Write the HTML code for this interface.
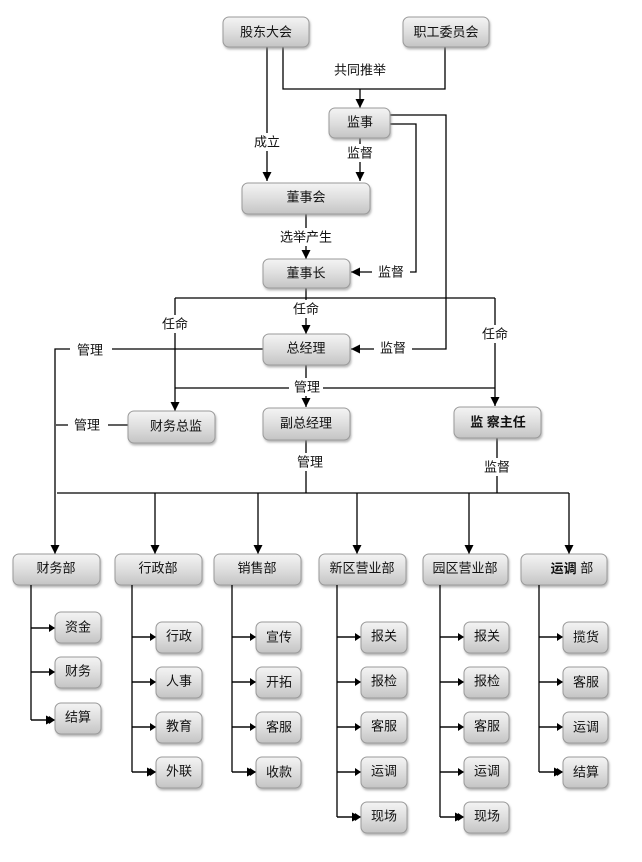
<!DOCTYPE html>
<html><head><meta charset="utf-8"><style>
html,body{margin:0;padding:0;background:#fff;}
svg{display:block;}
text{font-family:"Liberation Sans","Noto Sans CJK SC",sans-serif;font-size:13px;fill:#111;text-anchor:middle;dominant-baseline:central;}
.l{stroke:#000;stroke-width:1.3;fill:none;}
.b{fill:url(#g);stroke:#9a9a9a;stroke-width:1;filter:url(#s);}
.lb{fill:#fff;}
</style></head><body>
<svg width="642" height="862" viewBox="0 0 642 862" xmlns="http://www.w3.org/2000/svg">
<defs>
<linearGradient id="g" x1="0" y1="0" x2="0" y2="1">
<stop offset="0" stop-color="#f4f4f4"/><stop offset="0.5" stop-color="#dedede"/><stop offset="1" stop-color="#c4c4c4"/>
</linearGradient>
<filter id="s" x="-10%" y="-10%" width="130%" height="140%"><feDropShadow dx="1" dy="2" stdDeviation="1" flood-color="#888" flood-opacity="0.6"/></filter>
<marker id="a" viewBox="0 0 10 10" refX="10" refY="5" markerWidth="7" markerHeight="7" orient="auto"><path d="M0,0 L10,5 L0,10 z" fill="#000"/></marker>
</defs>

<!-- top lines -->
<path class="l" d="M283 47 V89 H445 V47"/>
<path class="l" d="M360 89 V108" marker-end="url(#a)"/>
<path class="l" d="M267 47 V181" marker-end="url(#a)"/>
<path class="l" d="M360 138 V181" marker-end="url(#a)"/>
<path class="l" d="M306 214 V259" marker-end="url(#a)"/>
<path class="l" d="M390 124 H416 V272 H351" marker-end="url(#a)"/>
<path class="l" d="M390 115 H446 V349 H351" marker-end="url(#a)"/>
<path class="l" d="M306 288 V298"/>
<path class="l" d="M175 298 H495"/>
<path class="l" d="M306 298 V334" marker-end="url(#a)"/>
<path class="l" d="M175 298 V411" marker-end="url(#a)"/>
<path class="l" d="M495 298 V406" marker-end="url(#a)"/>
<path class="l" d="M263 349 H55 V554" marker-end="url(#a)"/>
<path class="l" d="M306 365 V407" marker-end="url(#a)"/>
<path class="l" d="M175 388 H495"/>
<path class="l" d="M56 425 H128"/>
<path class="l" d="M306 440 V493"/>
<path class="l" d="M497 438 V493"/>
<path class="l" d="M57 493 H569"/>
<path class="l" d="M155 493 V554" marker-end="url(#a)"/>
<path class="l" d="M258 493 V554" marker-end="url(#a)"/>
<path class="l" d="M357 493 V554" marker-end="url(#a)"/>
<path class="l" d="M469 493 V554" marker-end="url(#a)"/>
<path class="l" d="M569 493 V554" marker-end="url(#a)"/>

<!-- labels with white bg -->
<text x="360" y="70">共同推举</text>
<rect class="lb" x="250" y="133" width="34" height="18"/><text x="267" y="142">成立</text>
<rect class="lb" x="343" y="144" width="34" height="18"/><text x="360" y="153">监督</text>
<rect class="lb" x="278" y="228" width="56" height="18"/><text x="306" y="237">选举产生</text>
<rect class="lb" x="372" y="263" width="38" height="18"/><text x="391" y="272">监督</text>
<rect class="lb" x="374" y="340" width="38" height="18"/><text x="393" y="348">监督</text>
<rect class="lb" x="289" y="300" width="34" height="18"/><text x="306" y="309">任命</text>
<rect class="lb" x="158" y="315" width="34" height="18"/><text x="175" y="324">任命</text>
<rect class="lb" x="478" y="325" width="34" height="18"/><text x="495" y="334">任命</text>
<rect class="lb" x="70" y="340" width="42" height="18"/><text x="90" y="350">管理</text>
<rect class="lb" x="289" y="378" width="34" height="18"/><text x="307" y="387">管理</text>
<rect class="lb" x="68" y="416" width="40" height="18"/><text x="87" y="425">管理</text>
<rect class="lb" x="293" y="453" width="34" height="18"/><text x="310" y="462">管理</text>
<rect class="lb" x="480" y="458" width="34" height="18"/><text x="497" y="467">监督</text>

<!-- main boxes -->
<rect class="b" x="223" y="17" width="86" height="30" rx="6"/><text x="266" y="32">股东大会</text>
<rect class="b" x="403" y="17" width="86" height="30" rx="6"/><text x="446" y="32">职工委员会</text>
<rect class="b" x="329" y="108" width="61" height="30" rx="6"/><text x="360" y="122">监事</text>
<rect class="b" x="242" y="183" width="128" height="31" rx="6"/><text x="306" y="197">董事会</text>
<rect class="b" x="263" y="259" width="87" height="29" rx="6"/><text x="306" y="273">董事长</text>
<rect class="b" x="263" y="334" width="87" height="31" rx="6"/><text x="306" y="348">总经理</text>
<rect class="b" x="128" y="411" width="87" height="32" rx="6"/><text x="176" y="426">财务总监</text>
<rect class="b" x="263" y="408" width="87" height="32" rx="6"/><text x="306" y="423">副总经理</text>
<rect class="b" x="454" y="407" width="87" height="31" rx="6"/><text x="498" y="422" style="font-weight:bold">监 察主任</text>

<!-- departments -->
<g>
<rect class="b" x="13" y="554" width="87" height="31" rx="6"/><text x="56" y="568">财务部</text>
<rect class="b" x="115" y="554" width="87" height="31" rx="6"/><text x="158" y="568">行政部</text>
<rect class="b" x="214" y="554" width="87" height="31" rx="6"/><text x="257" y="568">销售部</text>
<rect class="b" x="319" y="554" width="87" height="31" rx="6"/><text x="362" y="568">新区营业部</text>
<rect class="b" x="423" y="554" width="85" height="31" rx="6"/><text x="465" y="568">园区营业部</text>
<rect class="b" x="521" y="554" width="86" height="31" rx="6"/><text x="572" y="568"><tspan style="font-weight:bold">运调</tspan> 部</text>
</g>

<!-- trunks -->
<path class="l" d="M31 585 V720 M132 585 V772 M232 585 V772 M337 585 V817 M440 585 V817 M539 585 V772"/>

<!-- sub arrows -->
<g>
<path class="l" d="M31 628 H55 M31 672 H55 M31 720 H55" marker-end="url(#a)"/>
<path class="l" d="M132 637 H156 M132 682 H156 M132 727 H156 M132 772 H156" marker-end="url(#a)"/>
<path class="l" d="M232 637 H256 M232 682 H256 M232 727 H256 M232 772 H256" marker-end="url(#a)"/>
<path class="l" d="M337 637 H361 M337 682 H361 M337 727 H361 M337 772 H361 M337 817 H361" marker-end="url(#a)"/>
<path class="l" d="M440 637 H464 M440 682 H464 M440 727 H464 M440 772 H464 M440 817 H464" marker-end="url(#a)"/>
<path class="l" d="M539 637 H563 M539 682 H563 M539 727 H563 M539 772 H563" marker-end="url(#a)"/>
</g>
<path class="l" d="M31 628 H55"/><path class="l" d="M31 672 H55"/><path class="l" d="M31 720 H55"/>
<path class="l" d="M132 637 H156"/><path class="l" d="M132 682 H156"/><path class="l" d="M132 727 H156"/><path class="l" d="M132 772 H156"/>
<path class="l" d="M232 637 H256"/><path class="l" d="M232 682 H256"/><path class="l" d="M232 727 H256"/><path class="l" d="M232 772 H256"/>
<path class="l" d="M337 637 H361"/><path class="l" d="M337 682 H361"/><path class="l" d="M337 727 H361"/><path class="l" d="M337 772 H361"/><path class="l" d="M337 817 H361"/>
<path class="l" d="M440 637 H464"/><path class="l" d="M440 682 H464"/><path class="l" d="M440 727 H464"/><path class="l" d="M440 772 H464"/><path class="l" d="M440 817 H464"/>
<path class="l" d="M539 637 H563"/><path class="l" d="M539 682 H563"/><path class="l" d="M539 727 H563"/><path class="l" d="M539 772 H563"/>

<!-- arrowheads drawn explicitly -->
<g fill="#000">
<path d="M55 628 l-6 -4 v8 z M55 672 l-6 -4 v8 z M55 720 l-6 -4 v8 z"/>
<path d="M156 637 l-6 -4 v8 z M156 682 l-6 -4 v8 z M156 727 l-6 -4 v8 z M156 772 l-6 -4 v8 z"/>
<path d="M256 637 l-6 -4 v8 z M256 682 l-6 -4 v8 z M256 727 l-6 -4 v8 z M256 772 l-6 -4 v8 z"/>
<path d="M361 637 l-6 -4 v8 z M361 682 l-6 -4 v8 z M361 727 l-6 -4 v8 z M361 772 l-6 -4 v8 z M361 817 l-6 -4 v8 z"/>
<path d="M464 637 l-6 -4 v8 z M464 682 l-6 -4 v8 z M464 727 l-6 -4 v8 z M464 772 l-6 -4 v8 z M464 817 l-6 -4 v8 z"/>
<path d="M563 637 l-6 -4 v8 z M563 682 l-6 -4 v8 z M563 727 l-6 -4 v8 z M563 772 l-6 -4 v8 z"/>
</g>

<!-- sub boxes -->
<g>
<rect class="b" x="55" y="612" width="46" height="31" rx="6"/><text x="78" y="627">资金</text>
<rect class="b" x="55" y="657" width="46" height="31" rx="6"/><text x="78" y="671">财务</text>
<rect class="b" x="55" y="703" width="46" height="31" rx="6"/><text x="78" y="717">结算</text>

<rect class="b" x="156" y="622" width="46" height="31" rx="6"/><text x="179" y="636">行政</text>
<rect class="b" x="156" y="667" width="46" height="31" rx="6"/><text x="179" y="681">人事</text>
<rect class="b" x="156" y="712" width="46" height="31" rx="6"/><text x="179" y="726">教育</text>
<rect class="b" x="156" y="757" width="46" height="31" rx="6"/><text x="179" y="771">外联</text>

<rect class="b" x="256" y="622" width="45" height="31" rx="6"/><text x="279" y="637">宣传</text>
<rect class="b" x="256" y="667" width="45" height="31" rx="6"/><text x="279" y="682">开拓</text>
<rect class="b" x="256" y="712" width="45" height="31" rx="6"/><text x="279" y="727">客服</text>
<rect class="b" x="256" y="757" width="45" height="31" rx="6"/><text x="279" y="772">收款</text>

<rect class="b" x="361" y="622" width="46" height="31" rx="6"/><text x="384" y="636">报关</text>
<rect class="b" x="361" y="667" width="46" height="31" rx="6"/><text x="384" y="681">报检</text>
<rect class="b" x="361" y="712" width="46" height="31" rx="6"/><text x="384" y="726">客服</text>
<rect class="b" x="361" y="757" width="46" height="31" rx="6"/><text x="384" y="771">运调</text>
<rect class="b" x="361" y="802" width="46" height="31" rx="6"/><text x="384" y="816">现场</text>

<rect class="b" x="464" y="622" width="45" height="31" rx="6"/><text x="487" y="636">报关</text>
<rect class="b" x="464" y="667" width="45" height="31" rx="6"/><text x="487" y="681">报检</text>
<rect class="b" x="464" y="712" width="45" height="31" rx="6"/><text x="487" y="726">客服</text>
<rect class="b" x="464" y="757" width="45" height="31" rx="6"/><text x="487" y="771">运调</text>
<rect class="b" x="464" y="802" width="45" height="31" rx="6"/><text x="487" y="816">现场</text>

<rect class="b" x="563" y="622" width="45" height="31" rx="6"/><text x="586" y="637">揽货</text>
<rect class="b" x="563" y="667" width="45" height="31" rx="6"/><text x="586" y="682">客服</text>
<rect class="b" x="563" y="712" width="45" height="31" rx="6"/><text x="586" y="727">运调</text>
<rect class="b" x="563" y="757" width="45" height="31" rx="6"/><text x="586" y="772">结算</text>
</g>
</svg>
</body></html>
